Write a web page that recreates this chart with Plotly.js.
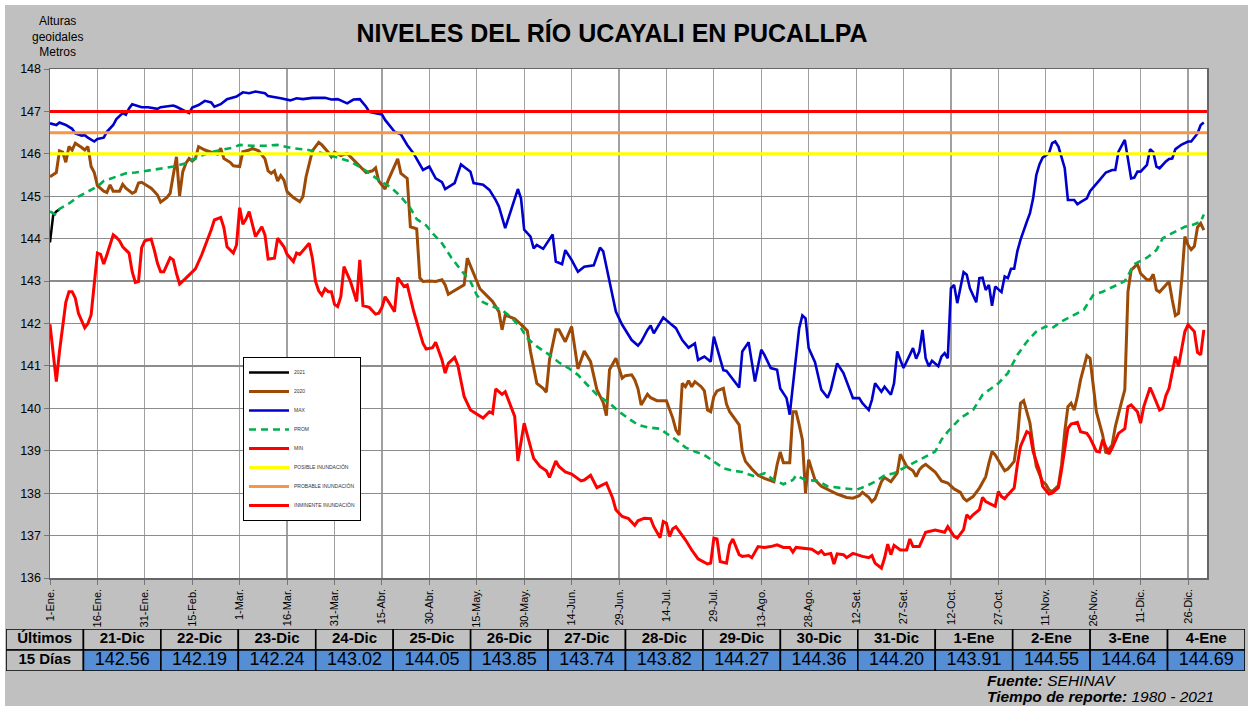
<!DOCTYPE html>
<html>
<head>
<meta charset="utf-8">
<script src="https://cdn.plot.ly/plotly-3.0.1.min.js"></script>
<style>
  html, body { margin: 0; padding: 0; background: #ffffff; }
  #chart { position: absolute; left: 5px; top: 5px; width: 1243px; height: 701px; }
</style>
</head>
<body>
<div id="chart"></div>
<script>
// ---------- DATA ----------
const tickDays = [1,16,31,46,61,76,91,106,121,136,151,166,181,196,211,226,241,256,271,286,301,316,331,346,361];
const tickLabels = ['1-Ene.','16-Ene.','31-Ene.','15-Feb.','1-Mar.','16-Mar.','31-Mar.','15-Abr.','30-Abr.','15-May.','30-May.','14-Jun.','29-Jun.','14-Jul.','29-Jul.','13-Ago.','28-Ago.','12-Set.','27-Set.','12-Oct.','27-Oct.','11-Nov.','26-Nov.','11-Dic.','26-Dic.'];

const days2021 = [1,2,3,4];
const vals2021 = [143.91,144.55,144.64,144.69];

const days2020 = [1,3,4,5,6,7,8,9,11,12,13,14,15,16,18,19,20,21,23,24,25,27,28,29,30,32,33,34,35,36,38,39,40,41,42,43,44,45,46,47,48,50,52,54,55,56,58,59,61,62,64,65,67,69,70,71,72,73,74,75,76,78,80,81,82,83,84,86,87,89,90,91,93,95,97,99,101,103,104,105,107,108,110,111,112,114,115,117,118,119,121,123,125,126,127,130,132,133,135,137,139,141,143,144,145,148,150,152,153,155,157,158,159,161,162,164,166,167,168,169,170,172,174,176,177,178,180,182,183,185,186,187,188,190,191,193,196,198,199,200,201,202,203,204,205,207,208,209,210,211,212,214,215,216,218,219,220,221,223,225,227,229,230,231,232,233,235,236,237,238,239,240,241,242,243,245,248,250,253,255,257,258,260,261,262,264,265,267,269,270,272,274,275,276,277,278,281,283,285,287,289,290,291,293,295,297,298,299,300,302,303,304,306,307,308,309,311,312,313,315,316,317,318,320,321,322,323,324,325,326,327,329,330,331,332,334,335,337,338,340,341,342,343,345,346,348,349,350,351,352,354,355,356,357,358,359,360,361,362,363,364,365,366];
const vals2020 = [145.46,145.56,146.07,146.04,145.80,146.17,146.09,146.25,146.15,146.09,146.17,145.70,145.56,145.25,145.12,145.09,145.27,145.12,145.12,145.28,145.19,145.07,145.11,145.31,145.33,145.23,145.19,145.11,145.03,144.86,144.97,145.07,145.50,145.93,145.01,145.58,145.78,145.89,145.83,145.89,146.17,146.09,146.04,145.99,146.13,145.89,145.80,145.72,145.70,146.05,146.09,146.13,146.07,145.88,145.60,145.54,145.60,145.36,145.49,145.38,145.11,144.97,144.87,144.99,145.46,145.78,146.07,146.27,146.21,146.04,145.93,146.04,145.96,146.01,145.86,145.70,145.56,145.60,145.67,145.36,145.17,145.38,145.72,145.88,145.54,145.42,144.28,144.23,143.07,142.99,143.00,142.99,143.03,142.91,142.69,142.82,142.91,143.54,143.18,142.82,142.67,142.52,142.28,141.85,142.20,142.11,141.98,141.83,141.34,140.59,140.47,140.38,141.14,141.85,141.85,141.57,141.93,141.38,140.93,141.14,141.35,141.10,140.44,140.14,139.83,140.91,141.18,140.71,140.77,140.79,140.67,140.46,140.08,140.33,140.25,140.18,140.18,139.77,139.49,139.37,140.59,140.51,140.65,140.51,140.63,140.51,140.41,139.96,139.92,140.28,140.41,140.47,140.10,139.92,139.70,139.61,138.98,138.75,138.57,138.42,138.35,138.29,138.27,138.67,138.97,138.72,138.72,139.92,139.92,139.61,139.26,138.00,138.79,138.55,138.31,138.16,138.05,137.98,137.90,137.88,137.94,138.02,137.90,137.80,137.87,138.27,138.37,138.27,138.47,138.92,138.63,138.53,138.39,138.55,138.63,138.68,138.50,138.29,138.24,138.10,138.02,137.88,137.82,137.92,138.12,138.39,138.71,138.98,138.90,138.63,138.53,138.57,138.75,139.26,140.12,140.18,139.65,139.10,138.63,138.27,138.21,138.08,138.04,138.18,138.67,139.45,140.04,140.12,139.96,140.28,140.67,141.24,141.18,140.55,139.92,139.37,138.94,139.14,139.57,140.16,140.44,142.75,143.26,143.40,143.18,143.03,143.03,143.16,142.79,142.74,142.91,142.99,142.56,142.19,142.24,143.02,144.05,143.85,143.74,143.82,144.27,144.36,144.20];

const daysMax = [1,3,4,6,8,9,11,12,13,15,16,18,19,21,22,24,25,26,27,30,32,35,36,40,41,43,45,46,48,50,52,53,55,57,60,62,64,66,69,70,72,74,77,79,81,84,88,90,92,95,97,99,101,102,104,106,107,110,112,114,116,119,121,123,125,126,129,131,134,135,138,140,142,143,145,147,149,150,151,153,154,155,157,160,161,163,164,166,168,170,173,175,176,178,180,182,185,187,188,190,191,192,195,197,199,201,203,205,206,208,210,211,214,215,218,219,220,222,224,226,227,229,231,232,234,235,238,239,240,241,243,245,247,248,250,252,254,255,257,258,260,261,262,263,264,265,267,268,269,270,271,273,274,275,276,277,278,279,280,282,283,284,285,286,287,288,290,291,292,294,295,296,297,298,299,300,302,303,304,305,306,307,308,310,311,312,313,314,315,317,318,319,320,322,323,325,326,327,329,330,332,333,335,337,338,339,341,342,343,344,345,346,348,349,350,351,352,354,355,356,357,359,361,362,364,365,366];
const valsMax = [146.72,146.68,146.74,146.68,146.59,146.48,146.43,146.44,146.38,146.29,146.35,146.38,146.52,146.68,146.82,146.96,146.92,147.07,147.17,147.10,147.10,147.06,147.10,147.14,147.11,147.03,146.96,147.09,147.15,147.25,147.21,147.11,147.17,147.29,147.35,147.45,147.43,147.47,147.43,147.36,147.34,147.31,147.26,147.31,147.29,147.32,147.32,147.28,147.29,147.19,147.28,147.29,147.11,146.99,146.96,146.93,146.80,146.52,146.46,146.21,146.01,145.62,145.70,145.42,145.33,145.17,145.31,145.75,145.58,145.31,145.27,145.15,144.91,144.76,144.25,144.72,145.17,144.95,144.21,144.05,143.77,143.85,143.76,144.10,143.46,143.40,143.73,143.50,143.22,143.34,143.37,143.79,143.70,142.99,142.28,141.97,141.61,141.48,141.57,141.85,141.95,141.77,142.14,142.01,141.89,141.61,141.43,141.53,141.14,141.22,141.10,141.69,140.90,140.88,140.59,140.49,141.34,141.56,140.63,141.38,141.26,140.95,140.91,140.47,140.24,139.85,141.89,142.19,142.12,141.42,141.09,140.44,140.25,140.44,141.06,140.83,140.44,140.24,140.24,140.12,139.96,140.20,140.59,140.49,140.39,140.51,140.32,140.59,141.34,141.14,140.95,141.26,141.42,141.17,141.34,141.85,141.18,140.99,141.12,140.99,141.22,141.30,141.18,142.83,142.91,142.48,143.21,143.15,142.83,142.50,143.07,143.08,142.79,142.91,142.42,142.87,142.74,143.11,143.07,143.29,143.29,143.70,143.97,144.40,144.60,144.95,145.50,145.75,145.91,146.01,146.25,146.29,146.17,145.66,144.91,144.91,144.81,144.86,144.95,145.12,145.28,145.38,145.56,145.62,145.62,146.05,146.33,145.89,145.42,145.44,145.58,145.58,145.74,146.11,146.04,145.70,145.66,145.82,145.88,145.89,146.11,146.22,146.29,146.29,146.48,146.68,146.74];

const daysProm = [1,3,4,7,10,13,16,18,22,25,28,31,35,40,44,46,49,52,55,59,61,65,69,73,78,82,86,89,91,96,101,105,109,112,115,117,120,122,125,128,131,134,136,138,141,144,147,150,152,155,159,162,165,168,171,174,178,181,185,187,190,194,196,199,202,205,208,211,214,217,220,224,227,230,233,236,237,240,244,247,251,256,259,262,265,268,271,274,277,281,283,285,289,293,296,301,304,307,310,313,316,318,321,324,328,331,334,338,341,344,348,351,353,356,360,363,365,366];
const valsProm = [144.64,144.56,144.70,144.83,144.99,145.11,145.23,145.36,145.46,145.54,145.56,145.60,145.64,145.70,145.78,145.86,145.96,146.04,146.09,146.15,146.21,146.19,146.19,146.21,146.13,146.10,146.04,145.97,145.93,145.82,145.60,145.38,145.20,144.99,144.72,144.46,144.31,144.13,143.89,143.55,143.26,142.99,142.67,142.50,142.40,142.32,142.14,141.89,141.65,141.46,141.26,141.08,140.95,140.79,140.55,140.32,140.12,139.92,139.71,139.61,139.55,139.52,139.41,139.26,139.08,138.98,138.90,138.75,138.59,138.53,138.50,138.39,138.47,138.31,138.21,138.31,138.42,138.31,138.29,138.16,138.13,138.08,138.16,138.27,138.42,138.47,138.59,138.71,138.84,138.98,139.26,139.45,139.77,139.96,140.32,140.59,140.83,141.26,141.57,141.81,141.93,141.89,142.05,142.16,142.32,142.67,142.75,142.89,143.00,143.40,143.55,143.73,144.01,144.13,144.28,144.34,144.40,144.57];

const daysMin = [1,3,4,5,6,7,8,9,10,12,13,14,15,16,17,18,19,21,22,23,24,26,27,28,29,30,31,33,34,35,36,37,39,40,41,42,44,46,47,49,51,52,53,55,56,57,59,60,61,62,63,64,66,68,69,70,72,73,75,76,78,79,80,83,84,85,86,87,88,89,90,91,92,93,94,96,98,99,100,102,104,105,106,107,108,110,111,113,114,116,119,120,122,123,125,126,127,129,130,132,134,135,137,138,140,141,142,144,145,147,148,149,151,152,154,156,158,159,161,162,164,166,169,170,172,174,177,179,180,182,184,186,187,189,191,192,194,195,196,197,198,199,200,202,204,206,207,209,210,211,212,213,215,216,217,219,220,222,223,225,227,229,231,233,235,236,237,240,242,244,245,246,248,249,250,252,253,255,257,258,260,261,262,264,265,266,267,268,270,272,273,274,276,277,278,281,282,284,285,287,288,290,291,292,293,295,296,297,300,301,302,303,304,306,307,308,310,311,312,314,315,317,318,320,321,322,323,324,326,327,329,330,332,333,334,336,337,339,341,342,343,345,346,347,349,350,352,353,354,355,357,358,359,360,361,363,364,365,366];
const valsMin = [141.98,140.63,141.34,141.97,142.50,142.75,142.75,142.60,142.24,141.90,142.00,142.20,142.99,143.66,143.63,143.40,143.62,144.09,144.03,143.95,143.81,143.66,143.22,142.97,142.99,143.79,143.95,143.99,143.73,143.42,143.22,143.22,143.55,143.50,143.18,142.93,143.07,143.22,143.29,143.62,143.99,144.21,144.44,144.50,144.26,143.81,143.66,143.85,144.73,144.34,144.46,144.64,144.05,144.28,144.09,143.52,143.54,144.01,143.81,143.63,143.46,143.66,143.63,143.89,143.54,142.99,142.77,142.67,142.82,142.75,142.75,142.45,142.40,142.63,143.34,143.00,142.52,143.50,142.42,142.38,142.22,142.24,142.38,142.63,142.52,142.28,143.08,142.87,142.91,142.30,141.53,141.40,141.43,141.56,141.14,140.83,141.06,141.20,141.02,140.28,139.96,139.91,139.83,139.77,139.92,139.88,140.46,140.33,140.39,140.00,139.81,138.76,139.65,139.37,138.82,138.63,138.53,138.37,138.76,138.63,138.50,138.45,138.29,138.31,138.42,138.13,138.24,137.88,137.61,137.45,137.40,137.24,137.35,137.41,137.40,137.21,136.95,137.33,137.29,136.98,137.16,137.21,137.11,136.90,136.66,136.45,136.41,136.33,136.35,136.94,136.92,136.39,136.35,136.78,136.92,136.55,136.51,136.53,136.48,136.74,136.72,136.74,136.78,136.72,136.72,136.61,136.72,136.70,136.68,136.58,136.64,136.55,136.58,136.33,136.57,136.55,136.48,136.58,136.53,136.51,136.48,136.53,136.35,136.23,136.47,136.80,136.55,136.77,136.66,136.66,136.92,136.74,136.74,136.90,137.08,137.13,137.11,137.08,137.21,136.98,136.94,137.14,137.49,137.41,137.49,137.61,137.90,137.80,137.69,138.04,137.92,137.87,137.96,138.12,138.67,139.10,139.45,139.41,138.98,138.53,138.16,137.98,138.00,138.13,138.55,139.10,139.53,139.63,139.67,139.45,139.41,139.30,138.99,138.97,139.26,138.92,139.06,139.41,139.52,140.04,140.08,139.92,139.65,140.04,140.49,140.32,139.96,140.00,140.30,140.47,141.22,140.99,141.38,141.81,141.97,141.81,141.32,141.26,141.85];

const levelPossible = 146.0;
const levelProbable = 146.5;
const levelImminent = 147.0;

const tableHeadLabel = 'Últimos';
const tableRowLabel = '15 Días';
const tableDates = ['21-Dic','22-Dic','23-Dic','24-Dic','25-Dic','26-Dic','27-Dic','28-Dic','29-Dic','30-Dic','31-Dic','1-Ene','2-Ene','3-Ene','4-Ene'];
const tableValues = [142.56,142.19,142.24,143.02,144.05,143.85,143.74,143.82,144.27,144.36,144.20,143.91,144.55,144.64,144.69];

// ---------- CHART ----------
const W = 1243, H = 701;
const FONT = 'Liberation Sans, Arial, sans-serif';
const NARROW = 'Liberation Sans Narrow, Arial Narrow, Liberation Sans, Arial, sans-serif';
const xEnd = 367;

function line(name, x, y, color, width, dash) {
  return { type: 'scatter', mode: 'lines', name: name, x: x, y: y,
           line: { color: color, width: width, dash: dash || 'solid' }, hoverinfo: 'skip' };
}

const traces = [
  line('2021', days2021, vals2021, '#000000', 2.5),
  line('2020', days2020, vals2020, '#9c4a06', 3),
  line('MAX', daysMax, valsMax, '#0000cc', 2.6),
  line('PROM', daysProm, valsProm, '#00b050', 2.6, '7px,5px'),
  line('MIN', daysMin, valsMin, '#ff0000', 3),
  line('POSIBLE INUNDACIÓN', [1, xEnd], [levelPossible, levelPossible], '#ffff00', 3),
  line('PROBABLE INUNDACIÓN', [1, xEnd], [levelProbable, levelProbable], '#f79646', 3),
  line('INMINENTE INUNDACIÓN', [1, xEnd], [levelImminent, levelImminent], '#ff0000', 3)
];

// ---- bottom table drawn as bar cells on a second, hidden axis pair ----
const nCols = tableDates.length + 1;
const colIdx = Array.from({ length: nCols }, (_, i) => i);
const gray = '#c0c0c0', blue = '#558ed5';
const headerTexts = ['<b>' + tableHeadLabel + '</b>'].concat(tableDates.map(d => '<b>' + d + '</b>'));
const valueTexts = ['<b>' + tableRowLabel + '</b>'].concat(tableValues.map(v => v.toFixed(2)));

traces.push({
  type: 'bar', xaxis: 'x2', yaxis: 'y2', showlegend: false, hoverinfo: 'skip',
  x: colIdx, y: colIdx.map(() => 1), base: colIdx.map(() => 1), width: 1,
  marker: { color: colIdx.map(() => gray), line: { color: '#000000', width: 1.6 } }
});
traces.push({
  type: 'bar', xaxis: 'x2', yaxis: 'y2', showlegend: false, hoverinfo: 'skip',
  x: colIdx, y: colIdx.map(() => 1), base: colIdx.map(() => 0), width: 1,
  marker: { color: colIdx.map(i => i === 0 ? gray : blue), line: { color: '#000000', width: 1.6 } }
});
traces.push({
  type: 'scatter', mode: 'text', xaxis: 'x2', yaxis: 'y2', showlegend: false, hoverinfo: 'skip',
  x: colIdx, y: colIdx.map(() => 1.5), text: headerTexts,
  textfont: { family: NARROW, size: 15, color: '#000000' }, cliponaxis: false
});
traces.push({
  type: 'scatter', mode: 'text', xaxis: 'x2', yaxis: 'y2', showlegend: false, hoverinfo: 'skip',
  x: colIdx, y: colIdx.map(() => 0.5), text: valueTexts,
  textfont: { family: NARROW, size: colIdx.map(i => i === 0 ? 15 : 18), color: '#000000' }, cliponaxis: false
});

const layout = {
  width: W, height: H,
  paper_bgcolor: '#c0c0c0',
  plot_bgcolor: '#ffffff',
  margin: { l: 0, r: 0, t: 0, b: 0 },
  font: { family: FONT, color: '#000000' },
  barmode: 'overlay', bargap: 0,
  title: {
    text: '<b>NIVELES DEL RÍO UCAYALI EN PUCALLPA</b>',
    font: { family: FONT, size: 25, color: '#000000' },
    xref: 'paper', x: 607 / W, xanchor: 'center',
    yref: 'paper', y: 1 - 28 / H, yanchor: 'middle'
  },
  showlegend: true,
  legend: {
    x: 238 / W, xanchor: 'left',
    y: 1 - 352 / H, yanchor: 'top',
    bgcolor: '#ffffff', bordercolor: '#000000', borderwidth: 1,
    font: { family: FONT, size: 5, color: '#333333' },
    itemwidth: 40,
    traceorder: 'normal'
  },
  xaxis: {
    domain: [45 / W, 1202 / W],
    range: [1, xEnd],
    tickmode: 'array', tickvals: tickDays, ticktext: tickLabels,
    tickangle: -90,
    tickfont: { family: FONT, size: 11, color: '#000000' },
    ticks: 'outside', ticklen: 5, tickcolor: '#777777',
    showgrid: true, gridcolor: '#a0a0a0', gridwidth: 1.2,
    showline: true, mirror: true, linecolor: '#666666', linewidth: 1.5,
    zeroline: false, fixedrange: true
  },
  yaxis: {
    domain: [1 - 573 / H, 1 - 64 / H],
    range: [136, 148], tick0: 136, dtick: 1,
    tickfont: { family: FONT, size: 12.5, color: '#000000' },
    ticks: 'outside', ticklen: 5, tickcolor: '#777777',
    showgrid: true, gridcolor: '#8c8c8c', gridwidth: 1.2,
    showline: true, mirror: true, linecolor: '#666666', linewidth: 1.5,
    zeroline: false, fixedrange: true
  },
  xaxis2: {
    domain: [1 / W, 1240 / W], anchor: 'y2', range: [-0.5, nCols - 0.5],
    visible: false, fixedrange: true
  },
  yaxis2: {
    domain: [1 - 666 / H, 1 - 624 / H], anchor: 'x2', range: [0, 2],
    visible: false, fixedrange: true
  },
  annotations: [
    { xref: 'paper', yref: 'paper', x: 52 / W, y: 1 - 31 / H, xanchor: 'center', yanchor: 'middle',
      text: 'Alturas<br>geoidales<br>Metros', showarrow: false, align: 'center',
      font: { family: FONT, size: 12, color: '#000000' } },
    { xref: 'paper', yref: 'paper', x: 980 / W, y: 1 - 675.5 / H, xanchor: 'left', yanchor: 'middle',
      text: '<b><i>Fuente:</i></b><i> SEHINAV</i>', showarrow: false,
      font: { family: FONT, size: 15.5, color: '#000000' } },
    { xref: 'paper', yref: 'paper', x: 980 / W, y: 1 - 691.5 / H, xanchor: 'left', yanchor: 'middle',
      text: '<b><i>Tiempo de reporte:</i></b><i> 1980 - 2021</i>', showarrow: false,
      font: { family: FONT, size: 15.5, color: '#000000' } }
  ]
};

Plotly.newPlot('chart', traces, layout, { displayModeBar: false, staticPlot: true });
</script>
</body>
</html>
